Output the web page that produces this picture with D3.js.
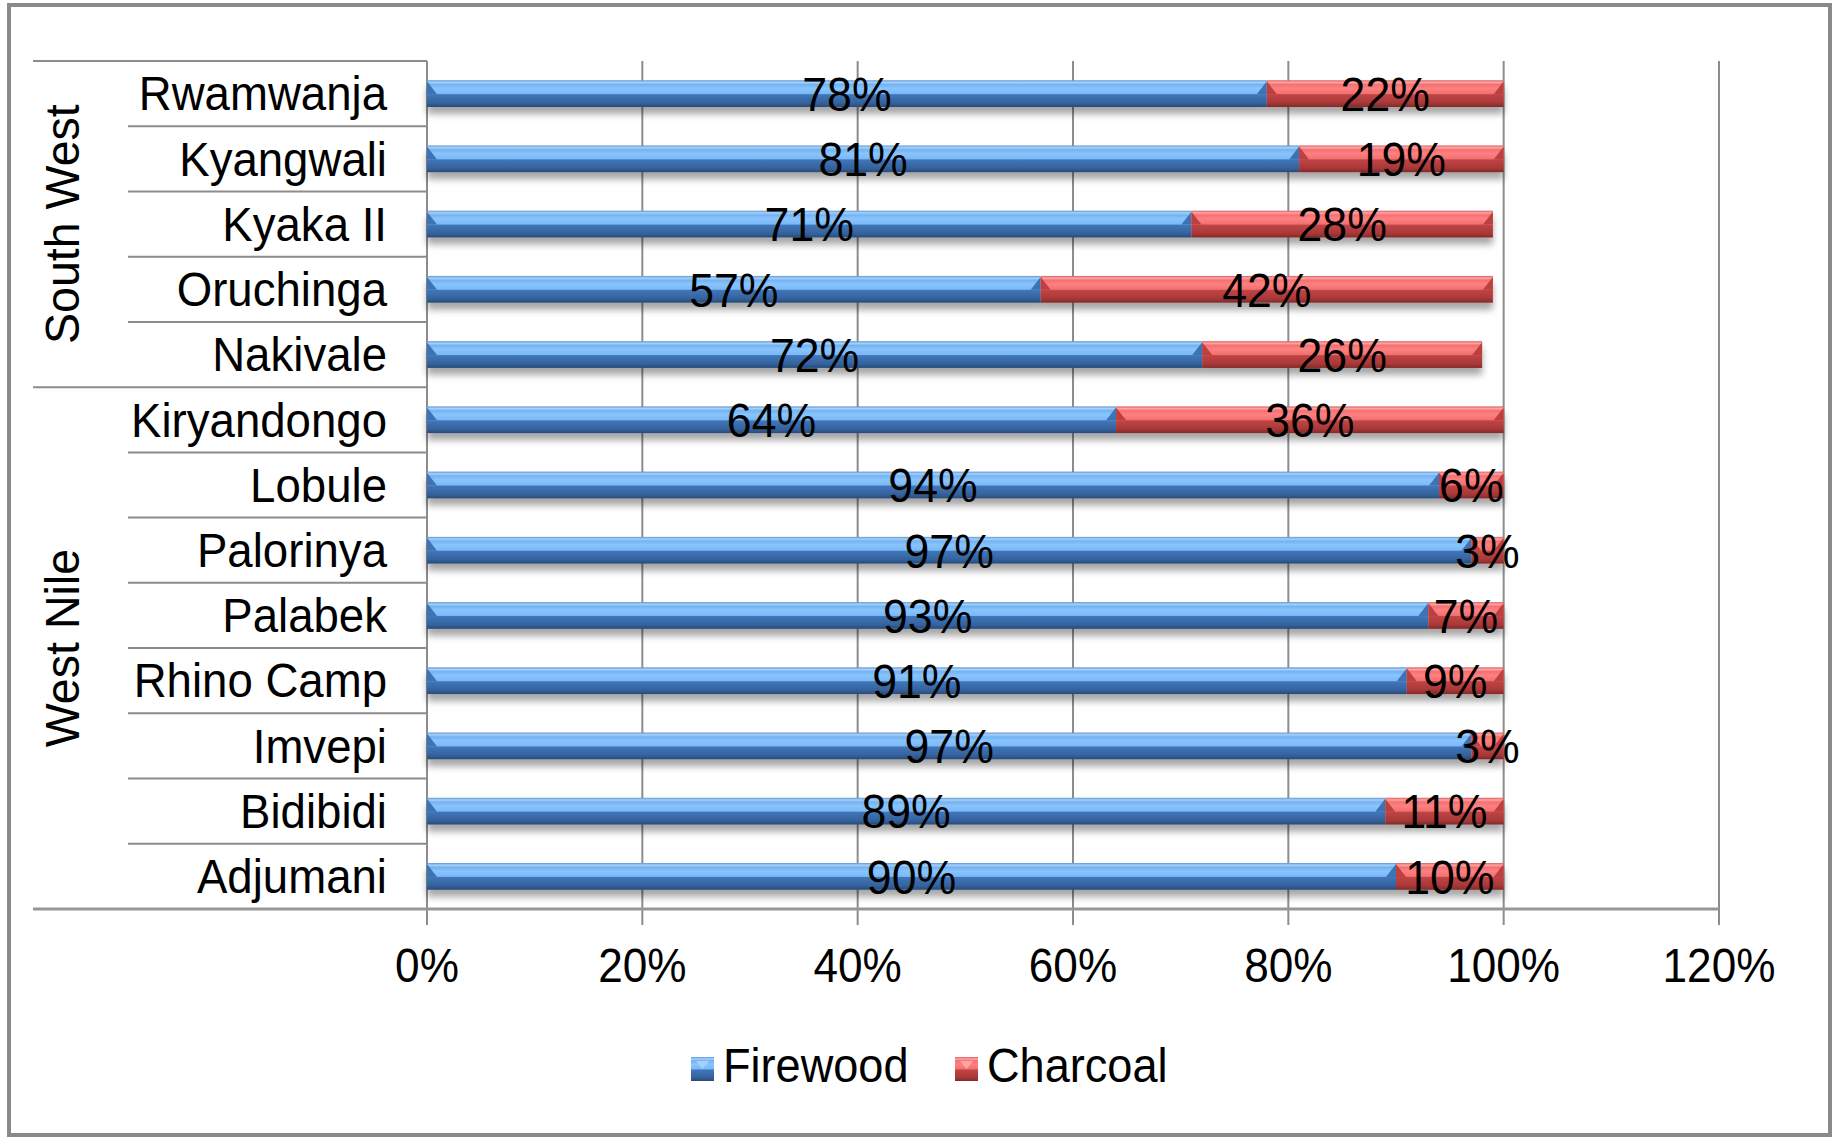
<!DOCTYPE html>
<html>
<head>
<meta charset="utf-8">
<script src="https://cdn.jsdelivr.net/npm/d3@7/dist/d3.min.js"></script>
<style>
  html, body { margin: 0; padding: 0; background: #fff; }
  svg { display: block; }
  text { font-family: "Liberation Sans", Arial, sans-serif; fill: #000; }
</style>
</head>
<body>
<svg id="chart" width="1835" height="1138"></svg>
<script>
// Household cooking fuel by settlement
const camps = ["Rwamwanja", "Kyangwali", "Kyaka II", "Oruchinga", "Nakivale",
               "Kiryandongo", "Lobule", "Palorinya", "Palabek", "Rhino Camp",
               "Imvepi", "Bidibidi", "Adjumani"];
const firewood = [0.78, 0.81, 0.71, 0.57, 0.72, 0.64, 0.94, 0.97, 0.93, 0.91, 0.97, 0.89, 0.90];
const charcoal = [0.22, 0.19, 0.28, 0.42, 0.26, 0.36, 0.06, 0.03, 0.07, 0.09, 0.03, 0.11, 0.10];
const regions = [
  { name: "South West", first: "Rwamwanja", last: "Nakivale" },
  { name: "West Nile", first: "Kiryandongo", last: "Adjumani" }
];
const seriesNames = ["Firewood", "Charcoal"];
const xTickValues = [0, 0.2, 0.4, 0.6, 0.8, 1.0, 1.2];

const FONT = 48;
const svg = d3.select("#chart");

// gradients + shadow
const defs = svg.append("defs");
const palettes = {
  Firewood: { stops: [[0, "#5f95d6"], [0.08, "#a6d2fa"], [0.16, "#74b2f0"], [0.3, "#88c4fe"], [0.5, "#7cb8f4"], [0.54, "#3f76ba"], [0.85, "#35629c"], [1, "#274a78"]], corner: "#3d72b4" },
  Charcoal: { stops: [[0, "#d86060"], [0.08, "#ffa4a4"], [0.16, "#f47070"], [0.3, "#fe8080"], [0.5, "#f27070"], [0.54, "#c04444"], [0.85, "#a83838"], [1, "#822828"]], corner: "#bc4040" }
};
Object.entries(palettes).forEach(([k, p]) => {
  const g = defs.append("linearGradient").attr("id", "grad-" + k)
    .attr("x1", 0).attr("y1", 0).attr("x2", 0).attr("y2", 1);
  p.stops.forEach(s => g.append("stop").attr("offset", s[0]).attr("stop-color", s[1]));
});
const f = defs.append("filter").attr("id", "shadow")
  .attr("x", "-5%").attr("y", "-40%").attr("width", "110%").attr("height", "220%");
f.append("feGaussianBlur").attr("in", "SourceAlpha").attr("stdDeviation", 3.5).attr("result", "b");
f.append("feOffset").attr("in", "b").attr("dy", 7).attr("result", "o");
f.append("feComponentTransfer").attr("in", "o").attr("result", "s")
  .append("feFuncA").attr("type", "linear").attr("slope", 0.35);
const fm = f.append("feMerge");
fm.append("feMergeNode").attr("in", "s");
fm.append("feMergeNode").attr("in", "SourceGraphic");

// outer frame
svg.append("rect").attr("x", 9).attr("y", 5).attr("width", 1821).attr("height", 1130)
  .attr("fill", "#fff").attr("stroke", "#8a8a8a").attr("stroke-width", 4);

const x = d3.scaleLinear().domain([0, 1.2]).range([427, 1719]);
const y = d3.scaleBand().domain(camps).range([61, 909]).padding(0);
const bw = y.bandwidth();
const barH = bw * 0.41;

function label(sel, tx, ty, anchor, sx, rot) {
  return sel.append("text")
    .attr("transform", `translate(${tx},${ty})` + (rot ? ` rotate(${rot})` : "") + ` scale(${sx},1)`)
    .attr("text-anchor", anchor)
    .attr("font-size", FONT);
}

const gridColor = "#8c8c8c";
// vertical gridlines + ticks
svg.append("g").selectAll("line").data(xTickValues).join("line")
  .attr("x1", d => x(d)).attr("x2", d => x(d))
  .attr("y1", 61).attr("y2", 925)
  .attr("stroke", gridColor).attr("stroke-width", 2);

// category axis structure
const sep = svg.append("g").attr("stroke", gridColor).attr("stroke-width", 2);
camps.forEach((c, i) => {
  if (i === 0) return;
  const isGroup = regions.some(r => r.first === c);
  sep.append("line").attr("x1", isGroup ? 33 : 128).attr("x2", x(0))
    .attr("y1", y(c)).attr("y2", y(c));
});
sep.append("line").attr("x1", 33).attr("x2", x(0)).attr("y1", 61).attr("y2", 61);
// value axis baseline
svg.append("line").attr("x1", 33).attr("x2", x(1.2)).attr("y1", 909).attr("y2", 909)
  .attr("stroke", "#969696").attr("stroke-width", 3);

// bars
const stackData = camps.map((c, i) => ({ camp: c, segs: [
  { key: "Firewood", x0: 0, x1: firewood[i], v: firewood[i] },
  { key: "Charcoal", x0: firewood[i], x1: firewood[i] + charcoal[i], v: charcoal[i] }
]}));

const rows = svg.append("g").selectAll("g").data(stackData).join("g")
  .attr("filter", "url(#shadow)");
rows.each(function (d) {
  const g = d3.select(this);
  const top = y(d.camp) + (bw - barH) / 2;
  d.segs.forEach(s => {
    const xa = x(s.x0), xb = x(s.x1);
    const w = xb - xa;
    g.append("rect").attr("x", xa).attr("y", top).attr("width", w).attr("height", barH)
      .attr("fill", `url(#grad-${s.key})`);
    const bev = Math.min(10, w / 2), hh = barH * 0.52;
    g.append("path")
      .attr("d", `M${xa},${top + 1}L${xa + bev},${top + hh}L${xa},${top + hh}Z`)
      .attr("fill", palettes[s.key].corner);
    g.append("path")
      .attr("d", `M${xb},${top + 1}L${xb - bev},${top + hh}L${xb},${top + hh}Z`)
      .attr("fill", palettes[s.key].corner);
  });
});

// data labels
const fmt = d3.format(".0%");
stackData.forEach(d => {
  const cy = y(d.camp) + bw / 2;
  d.segs.forEach(s => {
    label(svg, x((s.x0 + s.x1) / 2), cy + 0.36 * FONT, "middle", 0.93).text(fmt(s.v));
  });
});

// category labels
camps.forEach(c => {
  label(svg, 387, y(c) + bw / 2 + 0.35 * FONT, "end", 0.95).text(c);
});

// region labels
regions.forEach(r => {
  const cy = (y(r.first) + y(r.last) + bw) / 2;
  label(svg, 62 + 0.35 * FONT, cy, "middle", 0.97, -90).text(r.name);
});

// tick labels
xTickValues.forEach(v => {
  label(svg, x(v), 982, "middle", 0.92).text(fmt(v));
});

// legend
const legendItems = [{ key: seriesNames[0], mx: 691, tx: 723 }, { key: seriesNames[1], mx: 955, tx: 987 }];
legendItems.forEach(it => {
  svg.append("rect").attr("x", it.mx).attr("y", 1057).attr("width", 23).attr("height", 24)
    .attr("fill", `url(#grad-${it.key})`);
  svg.append("path").attr("d", `M${it.mx + 5},${1061}L${it.mx + 18},${1061}L${it.mx + 11.5},${1069}Z`)
    .attr("fill", palettes[it.key].stops[1][1]);
  label(svg, it.tx, 1082, "start", 0.94).text(it.key);
});
</script>
</body>
</html>
